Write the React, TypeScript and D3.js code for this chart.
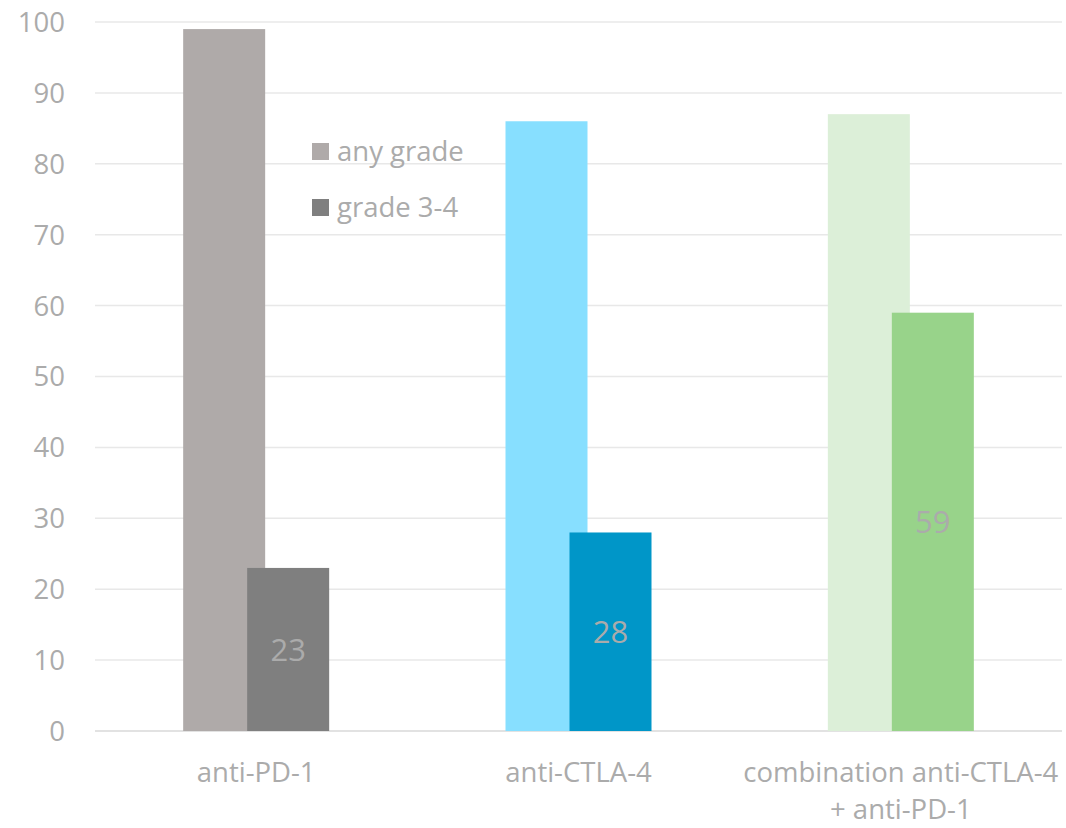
import React from "react";
import * as d3 from "d3";

// Immune-related adverse events (% of patients) by therapy
const categories: string[][] = [
  ["anti-PD-1"],
  ["anti-CTLA-4"],
  ["combination anti-CTLA-4", "+ anti-PD-1"],
];
const anyGrade: number[] = [99, 86, 87];
const grade34: number[] = [23, 28, 59];
const anyGradeColors: string[] = ["#afaaa9", "#87dfff", "#dcefd8"];
const grade34Colors: string[] = ["#7f7f7f", "#0096c8", "#98d38a"];
const legendLabels: string[] = ["any grade", "grade 3-4"];
const legendColors: string[] = ["#afaaa9", "#7f7f7f"];
const yTicks: number[] = [0, 10, 20, 30, 40, 50, 60, 70, 80, 90, 100];

const W = 1066;
const H = 828;
const FONT = "'Open Sans', 'Noto Sans', sans-serif";
const TEXT = "#ababab";
const FS = 27.5;

export default function App() {
  const left = 95;
  const right = 1062;
  const top = 22;
  const bottom = 731;

  const y = d3.scaleLinear().domain([0, 100]).range([bottom, top]);
  const x = d3
    .scaleBand<number>()
    .domain(d3.range(categories.length))
    .range([left, right]);

  const barW = 82;
  const offset = 64;

  return (
    <svg
      width={W}
      height={H}
      style={{ position: "absolute", left: 0, top: 0, background: "#fff" }}
      fontFamily={FONT}
    >
      {/* gridlines */}
      {yTicks.map((t) => (
        <line
          key={t}
          x1={left}
          x2={right}
          y1={y(t)}
          y2={y(t)}
          stroke={t === 0 ? "#d9d9d9" : "#e8e8e8"}
          strokeWidth={1.5}
        />
      ))}
      {/* y tick labels */}
      {yTicks.map((t) => (
        <text
          key={"l" + t}
          x={65}
          y={y(t)}
          dy="0.36em"
          textAnchor="end"
          fontSize={FS}
          fill={TEXT}
        >
          {t}
        </text>
      ))}
      {/* bars */}
      {categories.map((_, i) => {
        const c = (x(i) as number) + x.bandwidth() / 2;
        const x1 = c - (barW + offset) / 2;
        const x2 = x1 + offset;
        return (
          <g key={i}>
            <rect
              x={x1}
              y={y(anyGrade[i])}
              width={barW}
              height={bottom - y(anyGrade[i])}
              fill={anyGradeColors[i]}
            />
            <rect
              x={x2}
              y={y(grade34[i])}
              width={barW}
              height={bottom - y(grade34[i])}
              fill={grade34Colors[i]}
            />
            <text
              x={x2 + barW / 2}
              y={(y(grade34[i]) + bottom) / 2}
              dy="0.36em"
              textAnchor="middle"
              fontSize={31}
              fill={TEXT}
            >
              {grade34[i]}
            </text>
          </g>
        );
      })}
      {/* category labels */}
      {categories.map((lines, i) => {
        const c = (x(i) as number) + x.bandwidth() / 2;
        return (
          <text
            key={"c" + i}
            x={c}
            y={782}
            textAnchor="middle"
            fontSize={FS}
            fill={TEXT}
          >
            {lines.map((ln, j) => (
              <tspan key={j} x={c} dy={j === 0 ? 0 : 37}>
                {ln}
              </tspan>
            ))}
          </text>
        );
      })}
      {/* legend */}
      {legendLabels.map((lab, i) => (
        <g key={lab} transform={`translate(312, ${143 + i * 56})`}>
          <rect width={17} height={17} fill={legendColors[i]} />
          <text x={25} y={8.5} dy="0.36em" fontSize={FS} fill={TEXT}>
            {lab}
          </text>
        </g>
      ))}
    </svg>
  );
}
